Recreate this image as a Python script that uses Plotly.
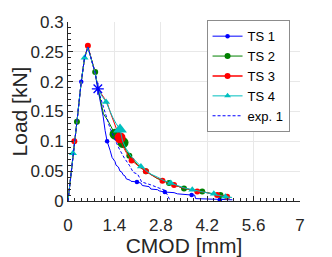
import numpy as np
import plotly.graph_objects as go

# ---------------- data ----------------
ts1_x = [0, 0.15, 0.19, 0.27, 0.4, 0.5, 0.6, 0.7, 0.82, 0.9, 0.97, 1.06, 1.12, 1.18, 1.27, 1.33, 1.42, 1.45, 1.52, 1.57,
         1.63, 1.66, 1.72, 1.76, 1.87, 1.9, 2.08, 2.2, 2.24, 2.45, 2.5, 2.7, 2.75, 2.92, 3.2, 3.3, 3.73, 3.82, 3.85, 4.3,
         4.58, 4.96]
ts1_y = [0, 0.08, 0.1, 0.133, 0.2, 0.24, 0.258, 0.238, 0.214, 0.188, 0.168, 0.142, 0.118, 0.1, 0.085, 0.073, 0.066, 0.06,
         0.057, 0.05, 0.048, 0.044, 0.042, 0.037, 0.035, 0.033, 0.032, 0.03, 0.026, 0.024, 0.02, 0.019, 0.017, 0.015,
         0.014, 0.012, 0.01, 0.01, 0.004, 0.003, 0.002, 0.002]
ts1_marks = [4, 13, 26, 33, 36, 40]
ts1_star = [9]

ts2_x = [0, 0.15, 0.19, 0.27, 0.4, 0.5, 0.6, 0.7, 0.82, 0.9, 0.98, 1.07, 1.2, 1.3, 1.42, 1.5, 1.58, 1.66, 1.75, 1.85,
         2.0, 2.1, 2.2, 2.35, 2.5, 2.68, 2.85, 3.05, 3.25, 3.5, 3.7, 3.9, 4.05, 4.2, 4.4, 4.6, 4.8, 4.9]
ts2_y = [0, 0.08, 0.1, 0.133, 0.2, 0.24, 0.258, 0.238, 0.216, 0.19, 0.168, 0.146, 0.135, 0.124, 0.112, 0.106, 0.1,
         0.098, 0.085, 0.076, 0.066, 0.061, 0.056, 0.05, 0.044, 0.038, 0.034, 0.03, 0.026, 0.021, 0.019, 0.017, 0.016,
         0.015, 0.012, 0.01, 0.007, 0.006]
ts2_marks = [3, 8, 19, 23, 27, 29, 32, 35]
ts2_big = [14, 17]

ts3_x = [0, 0.15, 0.19, 0.27, 0.4, 0.5, 0.6, 0.7, 0.8, 0.9, 1.0, 1.1, 1.18, 1.28, 1.4, 1.5, 1.57, 1.65, 1.75, 1.92,
         2.05, 2.2, 2.35, 2.5, 2.67, 2.85, 3.0, 3.2, 3.45, 3.7, 3.9, 4.1, 4.3, 4.5, 4.65, 4.8, 4.9]
ts3_y = [0, 0.08, 0.1, 0.133, 0.2, 0.24, 0.26, 0.24, 0.218, 0.192, 0.18, 0.172, 0.165, 0.148, 0.13, 0.116, 0.106,
         0.093, 0.082, 0.068, 0.062, 0.055, 0.05, 0.044, 0.039, 0.034, 0.031, 0.027, 0.022, 0.019, 0.016, 0.015, 0.012,
         0.01, 0.009, 0.007, 0.006]
ts3_marks = [2, 6, 19, 22, 25, 27, 30, 33, 35]
ts3_big = [16]

ts4_x = [0, 0.15, 0.19, 0.27, 0.4, 0.5, 0.6, 0.7, 0.8, 0.9, 1.0, 1.15, 1.25, 1.35, 1.45, 1.57, 1.65, 1.75, 1.9, 2.05,
         2.2, 2.35, 2.5, 2.7, 2.9, 3.1, 3.3, 3.5, 3.75, 4.0, 4.2, 4.4, 4.6, 4.75, 4.95]
ts4_y = [0, 0.08, 0.1, 0.133, 0.2, 0.24, 0.258, 0.24, 0.218, 0.192, 0.178, 0.166, 0.152, 0.14, 0.13, 0.12, 0.1, 0.088,
         0.075, 0.066, 0.058, 0.051, 0.045, 0.04, 0.034, 0.03, 0.026, 0.022, 0.019, 0.016, 0.014, 0.012, 0.009, 0.007,
         0.006]
ts4_marks = [1, 5, 11, 20, 25, 28, 31, 33]
ts4_big = [15]

exp1_x = [0, 0.15, 0.27, 0.4, 0.5, 0.6, 0.7, 0.82, 0.9, 1.0, 1.1, 1.25, 1.4, 1.55, 1.7, 1.85, 1.97, 2.1, 2.17, 2.22,
          2.5, 2.7, 2.92, 3.0, 3.07]
exp1_y = [0, 0.08, 0.133, 0.2, 0.24, 0.258, 0.238, 0.215, 0.188, 0.17, 0.15, 0.125, 0.105, 0.087, 0.072, 0.06, 0.048,
          0.045, 0.038, 0.032, 0.027, 0.023, 0.018, 0.01, 0.002]

x_ticks = [0, 1.4, 2.8, 4.2, 5.6, 7]
y_ticks = [0, 0.05, 0.1, 0.15, 0.2, 0.25, 0.3]

# ---------------- figure ----------------
BLUE = '#0000ff'
GREEN = '#008000'
RED = '#ff0000'
CYAN = '#00bfbf'
FONT = 'Liberation Sans, Arial, sans-serif'

fig = go.Figure()


def pick(arr, idx):
    return list(np.asarray(arr)[idx])


series = [
    ('TS 1', ts1_x, ts1_y, BLUE, ts1_marks, [], 'circle', 4.5),
    ('TS 2', ts2_x, ts2_y, GREEN, ts2_marks, ts2_big, 'circle', 6),
    ('TS 3', ts3_x, ts3_y, RED, ts3_marks, ts3_big, 'circle', 6),
    ('TS 4', ts4_x, ts4_y, CYAN, ts4_marks, ts4_big, 'triangle-up', 7),
]

for name, xs, ys, col, mk, big, sym, sz in series:
    fig.add_trace(go.Scatter(x=xs, y=ys, mode='lines', line=dict(color=col, width=1),
                             showlegend=False, hoverinfo='skip'))
    fig.add_trace(go.Scatter(x=pick(xs, mk), y=pick(ys, mk), mode='markers',
                             marker=dict(color=col, size=sz, symbol=sym, line=dict(width=0)),
                             showlegend=False, hoverinfo='skip'))
    if big:
        fig.add_trace(go.Scatter(x=pick(xs, big), y=pick(ys, big), mode='markers',
                                 marker=dict(color=col, size=sz + 5, symbol=sym, line=dict(width=0)),
                                 showlegend=False, hoverinfo='skip'))

# asterisk on TS 1
fig.add_trace(go.Scatter(x=pick(ts1_x, ts1_star), y=pick(ts1_y, ts1_star), mode='markers',
                         marker=dict(color=BLUE, size=10, symbol='asterisk-open', line=dict(color=BLUE, width=1.3)),
                         showlegend=False, hoverinfo='skip'))

fig.add_trace(go.Scatter(x=exp1_x, y=exp1_y, mode='lines', line=dict(color=BLUE, width=1, dash='3px,2px'),
                         showlegend=False, hoverinfo='skip'))

# legend entries
for name, xs, ys, col, mk, big, sym, sz in series:
    fig.add_trace(go.Scatter(x=[None], y=[None], mode='lines+markers', name=name,
                             line=dict(color=col, width=1.5 if name == 'TS 3' else 1),
                             marker=dict(color=col, size=min(sz, 6), symbol=sym)))
fig.add_trace(go.Scatter(x=[None], y=[None], mode='lines', name='exp. 1',
                         line=dict(color=BLUE, width=1, dash='3px,2px')))

axis_common = dict(showgrid=True, gridcolor='#e8e8e8', gridwidth=1, zeroline=False,
                   showline=True, linecolor='#262626', linewidth=1,
                   tickcolor='#262626', tickfont=dict(size=17, color='#262626', family=FONT),
                   automargin=False)

fig.update_xaxes(range=[0, 7], tickmode='array', tickvals=x_ticks, ticktext=[f'{v:g}' for v in x_ticks],
                 ticks='inside', ticklen=5,
                 minor=dict(tickmode='linear', tick0=0, dtick=0.2, ticks='inside', ticklen=3,
                            tickcolor='#262626', showgrid=False),
                 ticklabelstandoff=9,
                 title=dict(text='CMOD [mm]', font=dict(size=21, color='#262626', family=FONT), standoff=14),
                 **axis_common)
fig.update_yaxes(range=[0, 0.3], tickmode='array', tickvals=y_ticks, ticktext=[f'{v:g}' for v in y_ticks],
                 ticks='inside', ticklen=5,
                 minor=dict(tickmode='linear', tick0=0, dtick=0.01, ticks='inside', ticklen=3,
                            tickcolor='#262626', showgrid=False),
                 title=dict(text='Load [kN]', font=dict(size=21, color='#262626', family=FONT), standoff=0),
                 **axis_common)

# the page body adds an 8px offset, so the figure is 8px smaller and margins shifted
fig.update_layout(
    width=324, height=249,
    margin=dict(l=60, r=32, t=12, b=56),
    plot_bgcolor='white', paper_bgcolor='white',
    font=dict(family=FONT, color='#262626'),
    legend=dict(x=0.955, y=1.01, xanchor='right', yanchor='top', bgcolor='white',
                bordercolor='#8c8c8c', borderwidth=1, font=dict(size=13, color='black', family=FONT),
                itemwidth=30, tracegroupgap=0),
)

fig.write_html('out.html')
